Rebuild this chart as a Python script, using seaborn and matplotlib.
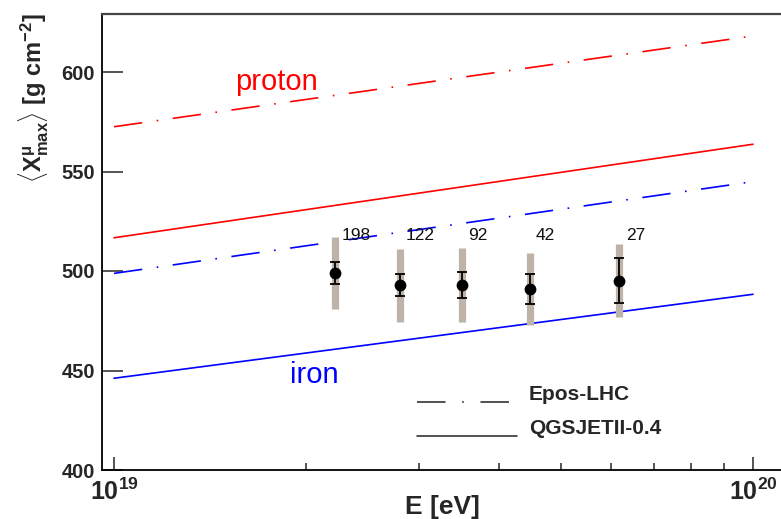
import numpy as np
import pandas as pd
import matplotlib
matplotlib.use("Agg")
import matplotlib.pyplot as plt
import seaborn as sns

# ---------------- data ----------------
energy = [2.22e19, 2.80e19, 3.50e19, 4.47e19, 6.18e19]
xmax_mu = [499.1, 492.8, 493.0, 491.0, 495.1]
stat_err = [5.4, 5.5, 6.7, 7.5, 11.3]
sys_err = [18.2, 18.4, 18.4, 17.9, 18.3]
n_events = ["198", "122", "92", "42", "27"]
label_level = 518.0

model_energy = [1e19, 1e20]
proton_epos = [572.5, 618.1]
proton_qgsjet = [516.7, 563.7]
iron_epos = [498.8, 544.9]
iron_qgsjet = [446.1, 488.3]

yticks = [400, 450, 500, 550, 600]

# ---------------- style ----------------
sns.set_theme(style="white")
plt.rcParams["font.family"] = ["Liberation Sans", "DejaVu Sans"]
plt.rcParams["mathtext.fontset"] = "custom"
plt.rcParams["mathtext.rm"] = "Liberation Sans"
plt.rcParams["mathtext.it"] = "Liberation Sans:italic"
plt.rcParams["mathtext.bf"] = "Liberation Sans:bold"
plt.rcParams["mathtext.sf"] = "Liberation Sans"
plt.rcParams["lines.scale_dashes"] = False

W, H = 781, 519
fig = plt.figure(figsize=(W / 100, H / 100), dpi=100)
left_px, right_px, top_px, bot_px = 102, 800, 14, 470
ax = fig.add_axes([left_px / W, (H - bot_px) / H, (right_px - left_px) / W, (bot_px - top_px) / H])

dec_px = 639.0
x_lo = 10 ** (19 - (114 - left_px) / dec_px)
x_hi = 10 ** (20 + (right_px - 753) / dec_px)

models = pd.DataFrame({
    "E": model_energy * 4,
    "X": proton_epos + proton_qgsjet + iron_epos + iron_qgsjet,
    "curve": ["pe"] * 2 + ["pq"] * 2 + ["ie"] * 2 + ["iq"] * 2,
})
dashdot = (0, (20.5, 10.5, 1.2, 10.5))
styles = {"pe": ("#ff0000", dashdot), "pq": ("#ff0000", "-"),
          "ie": ("#0000ff", dashdot), "iq": ("#0000ff", "-")}
for key, (col, ls) in styles.items():
    sub = models[models["curve"] == key]
    sns.lineplot(data=sub, x="E", y="X", ax=ax, color=col, lw=1.2, linestyle=ls)

ax.set_xscale("log")
ax.set_xlim(x_lo, x_hi)
ax.set_ylim(400, 400 + (bot_px - top_px) / 1.99)

# systematic bars
ax.errorbar(energy, xmax_mu, yerr=sys_err, fmt="none", ecolor="#bdb3a8",
            elinewidth=5.2, capsize=0, zorder=3)
# statistical bars
ax.errorbar(energy, xmax_mu, yerr=stat_err, fmt="none", ecolor="black",
            elinewidth=1.3, capsize=3.3, capthick=1.3, zorder=4)
pts = pd.DataFrame({"E": energy, "X": xmax_mu})
sns.scatterplot(data=pts, x="E", y="X", ax=ax, color="black", s=72,
                edgecolor="black", linewidth=0, zorder=5)

for e, n in zip(energy, n_events):
    ax.annotate(n, (e, label_level), xytext=(4.5, 0), textcoords="offset points",
                ha="left", va="center", fontsize=12.5, color="#111111")

ax.text(235 / W, 1 - 82 / H, "proton", transform=fig.transFigure, color="#ff0000",
        fontsize=21, ha="left", va="center")
ax.text(290 / W, 1 - 375 / H, "iron", transform=fig.transFigure, color="#0000ff",
        fontsize=21, ha="left", va="center")

# legend (drawn manually)
ax.plot([417 / W, 510 / W], [1 - 402 / H, 1 - 402 / H], transform=fig.transFigure,
        color="#222222", lw=1.1, linestyle=(0, (20.5, 12, 1.2, 12)), clip_on=False)
ax.plot([417 / W, 517 / W], [1 - 436 / H, 1 - 436 / H], transform=fig.transFigure,
        color="#222222", lw=1.1, clip_on=False)
fig.text(529 / W, 1 - 394 / H, "Epos-LHC", fontsize=15, fontweight="bold", va="center", ha="left")
fig.text(529 / W, 1 - 428 / H, "QGSJETII-0.4", fontsize=15, fontweight="bold", va="center", ha="left")

# axes styling
for s in ["left", "bottom"]:
    ax.spines[s].set_color("black")
    ax.spines[s].set_linewidth(1.3)
ax.spines["top"].set_color("#444444")
ax.spines["top"].set_linewidth(1.6)
ax.spines["right"].set_visible(False)

ax.set_yticks(yticks)
ax.set_yticklabels([str(v) for v in yticks], fontsize=14.5, fontweight="bold")
ax.set_xticks([1e19, 1e20])
ax.set_xticklabels([r"$\mathbf{10^{19}}$", r"$\mathbf{10^{20}}$"], fontsize=18)
ax.xaxis.set_minor_locator(matplotlib.ticker.LogLocator(base=10, subs=np.arange(2, 10)))
ax.xaxis.set_minor_formatter(matplotlib.ticker.NullFormatter())
ax.tick_params(axis="x", which="major", direction="in", length=9.5, width=1.1, pad=6, bottom=True, top=False)
ax.tick_params(axis="x", which="minor", direction="in", length=5, width=1.1, bottom=True, top=False)
ax.tick_params(axis="y", which="major", direction="in", length=15, width=1.1, pad=5, left=True, right=False)
ax.tick_params(axis="y", which="minor", left=False)
ax.set_xlabel("")
ax.set_ylabel("")
ax.grid(False)

fig.text(442 / W, 1 - 507 / H, "E [eV]", fontsize=19, fontweight="bold", ha="center", va="center")
fig.text(34 / W, 1 - 13 / H, r"$\langle\mathbf{X^{\mu}_{max}}\rangle$ $\mathbf{[g\ cm^{-2}]}$",
         rotation=90, fontsize=17, ha="center", va="top")

fig.savefig("out.png", dpi=100)
